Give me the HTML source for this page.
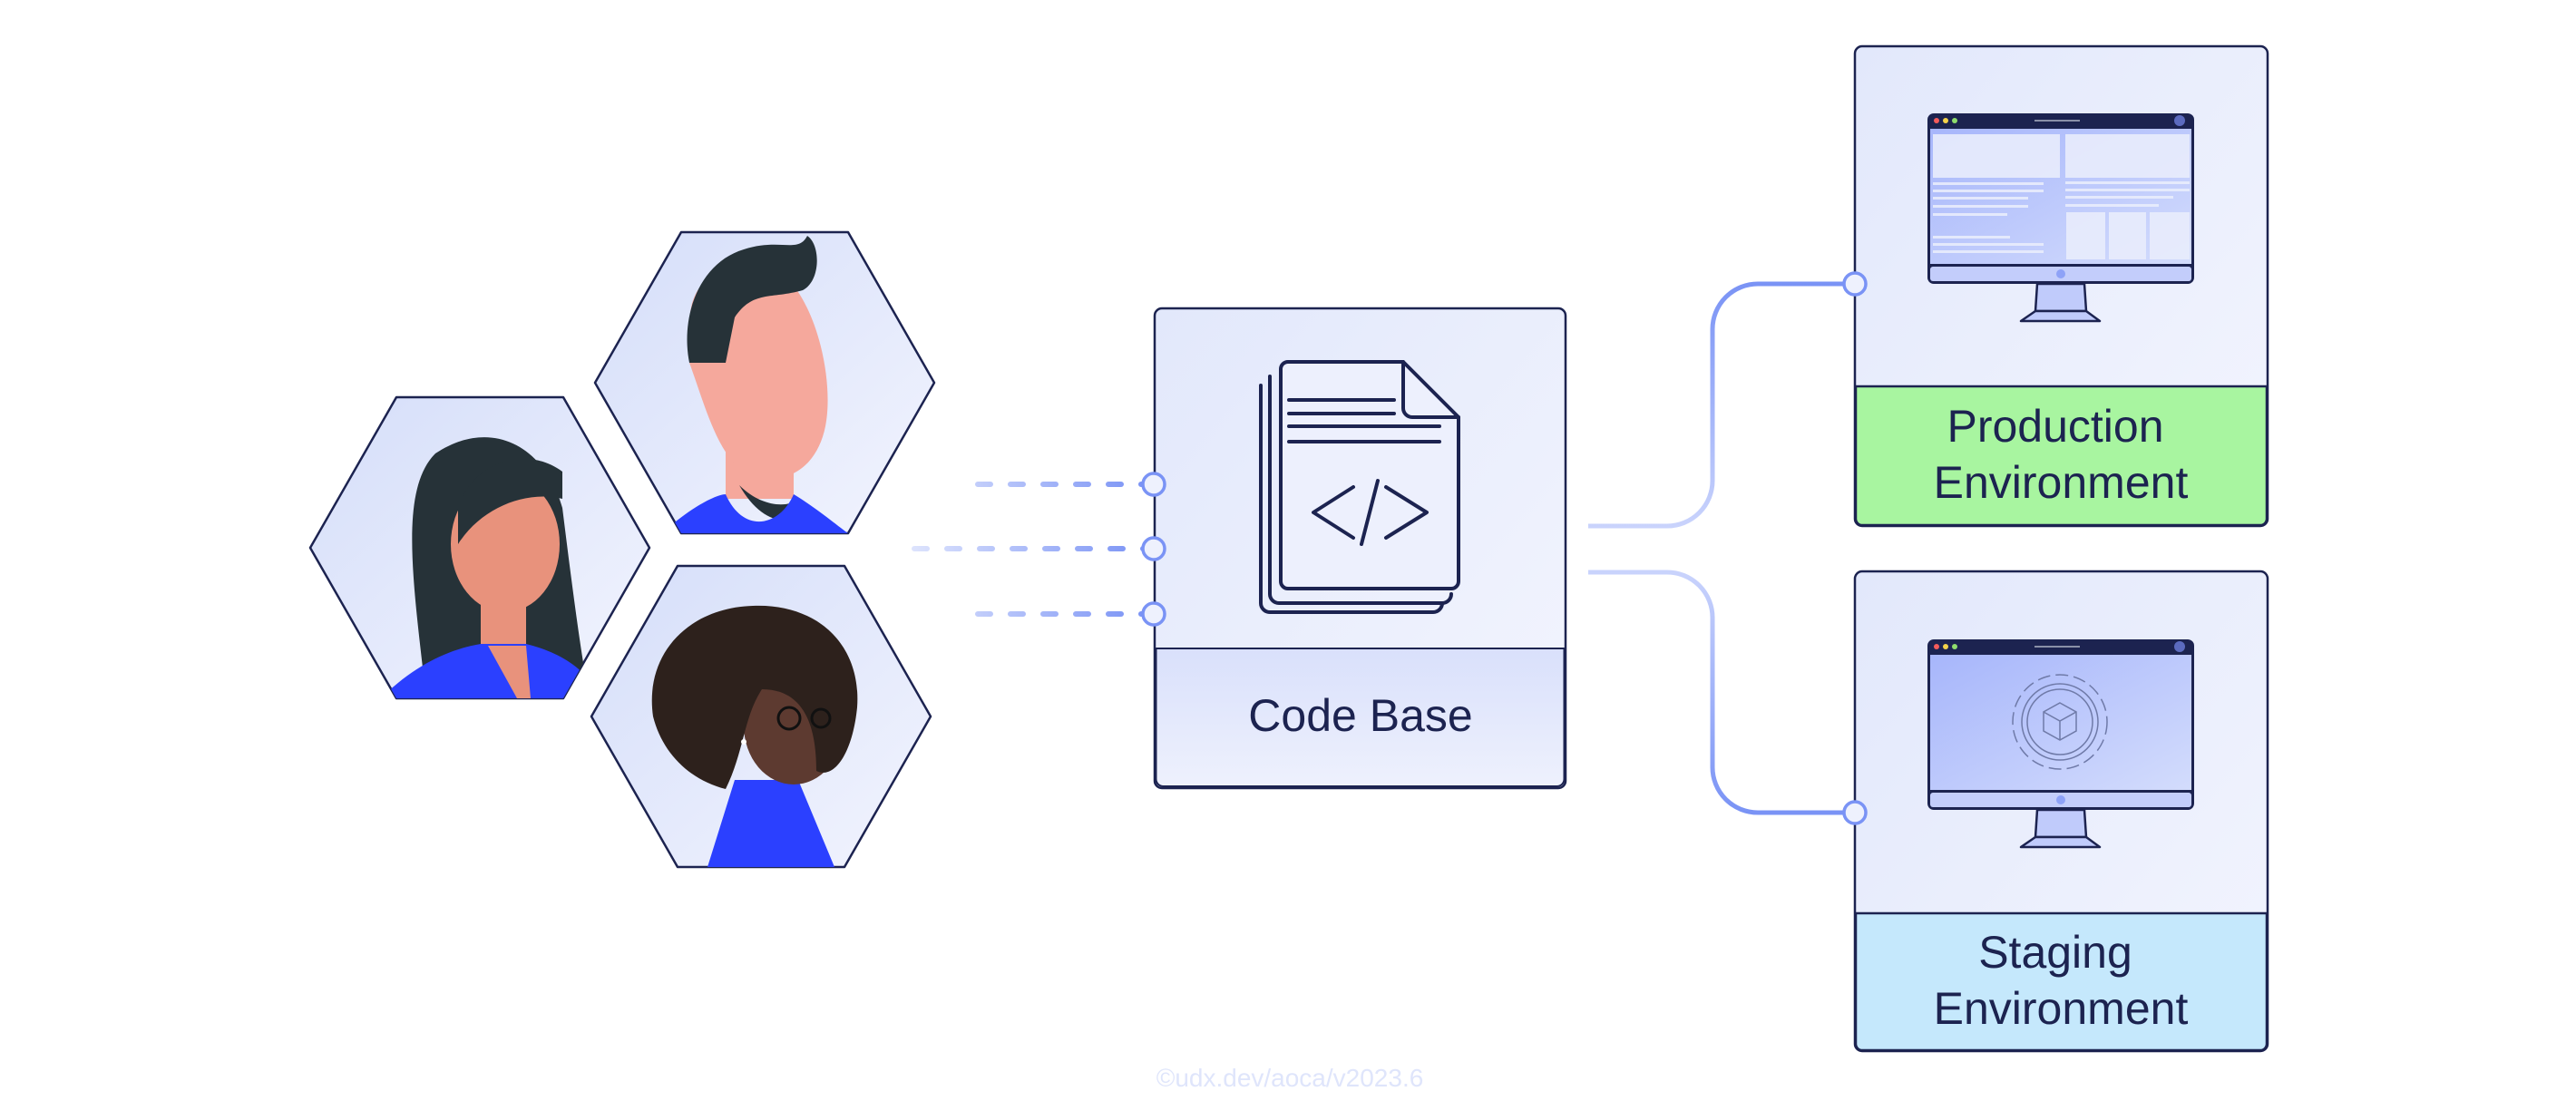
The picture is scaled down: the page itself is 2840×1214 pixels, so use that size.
<!DOCTYPE html>
<html><head><meta charset="utf-8"><style>
html,body{margin:0;padding:0;background:#fff;}
svg{display:block}
text{font-family:"Liberation Sans",sans-serif;}
</style></head><body>
<svg width="2840" height="1214" viewBox="0 0 2840 1214" xmlns="http://www.w3.org/2000/svg">
<defs>
<linearGradient id="bg" x1="0" y1="0" x2="1" y2="1"><stop offset="0" stop-color="#e2e8fb"/><stop offset="1" stop-color="#f3f5fe"/></linearGradient>
<linearGradient id="hx" x1="0" y1="0" x2="1" y2="1"><stop offset="0" stop-color="#d5def9"/><stop offset="1" stop-color="#f2f4fe"/></linearGradient>
<linearGradient id="lbl" x1="0" y1="0" x2="0" y2="1"><stop offset="0" stop-color="#d9e0fb"/><stop offset="1" stop-color="#eef1fd"/></linearGradient>
<linearGradient id="scr" x1="0" y1="0" x2="1" y2="1"><stop offset="0" stop-color="#a7b6fb"/><stop offset="1" stop-color="#d3dcfc"/></linearGradient>
<linearGradient id="dl" gradientUnits="userSpaceOnUse" x1="1000" y1="0" x2="1262" y2="0"><stop offset="0" stop-color="#dfe5fd"/><stop offset="1" stop-color="#7a93f5"/></linearGradient>
<linearGradient id="c1" x1="0" y1="1" x2="0" y2="0"><stop offset="0" stop-color="#c9d3fc"/><stop offset="1" stop-color="#7a93f5"/></linearGradient>
<linearGradient id="c2" x1="0" y1="0" x2="0" y2="1"><stop offset="0" stop-color="#c9d3fc"/><stop offset="1" stop-color="#7a93f5"/></linearGradient>
<clipPath id="h1"><polygon points="342,604 437,438 621,438 716,604 621,770 437,770"/></clipPath>
<clipPath id="h2"><polygon points="656,422 751,256 935,256 1030,422 935,588 751,588"/></clipPath>
<clipPath id="h3"><polygon points="652,790 747,624 931,624 1026,790 931,956 747,956"/></clipPath>
<g id="mon">
<rect x="0" y="0" width="294" height="188" rx="7" fill="#1c2350"/>
<rect x="3" y="17" width="288" height="149" fill="url(#scr)"/>
<rect x="3" y="169" width="288" height="16" rx="3" fill="#c3cdfb"/>
<circle cx="147" cy="177" r="5" fill="#8ea2f7"/>
<circle cx="10" cy="8" r="3" fill="#f45b5b"/><circle cx="20" cy="8" r="3" fill="#f3d24a"/><circle cx="30" cy="8" r="3" fill="#8fdc6d"/>
<rect x="118" y="7" width="50" height="2" fill="#8a90a8"/>
<circle cx="278" cy="8" r="6" fill="#5c6bbf"/>
<polygon points="121,188 173,188 175,218 119,218" fill="#c0cbfb" stroke="#1c2350" stroke-width="2.5"/>
<polygon points="119,218 175,218 190,229 103,229" fill="#c0cbfb" stroke="#1c2350" stroke-width="2.5" stroke-linejoin="round"/>
</g>
</defs>

<!-- hexagons -->
<polygon points="342,604 437,438 621,438 716,604 621,770 437,770" fill="url(#hx)" stroke="#1c2350" stroke-width="2.5" stroke-linejoin="round"/>
<g clip-path="url(#h1)">
<path d="M470,770 C455,640 440,540 480,500 C540,460 600,490 620,560 C630,640 640,720 650,770 Z" fill="#263238"/>
<ellipse cx="557" cy="600" rx="60" ry="75" fill="#e8927c"/>
<path d="M505,560 C520,510 580,490 620,520 L620,550 C580,540 530,560 505,600 Z" fill="#263238"/>
<rect x="530" y="660" width="50" height="60" fill="#e8927c"/>
<path d="M420,770 C460,730 500,715 530,710 L580,710 C620,720 650,740 660,770 Z" fill="#2b40ff"/>
<path d="M538,712 L570,770 L585,770 L580,712 Z" fill="#e8927c"/>
</g>
<polygon points="656,422 751,256 935,256 1030,422 935,588 751,588" fill="url(#hx)" stroke="#1c2350" stroke-width="2.5" stroke-linejoin="round"/>
<g clip-path="url(#h2)">
<rect x="800" y="440" width="75" height="110" fill="#f5a89c"/>
<path d="M760,360 C760,300 800,290 860,300 C900,330 920,420 910,470 C900,520 860,540 820,520 C790,500 775,440 760,400 Z" fill="#f5a89c"/>
<ellipse cx="790" cy="420" rx="20" ry="28" fill="#f5a89c"/>
<path d="M760,400 C750,350 770,290 820,275 C860,262 880,280 890,260 C905,270 905,310 885,320 C850,330 830,320 810,350 L800,400 Z" fill="#263238"/>
<path d="M815,535 C840,560 870,560 880,550 L880,570 C860,580 835,570 815,535 Z" fill="#263238"/>
<path d="M730,588 C760,560 790,545 800,545 C820,590 860,580 875,545 C900,560 930,585 935,588 Z" fill="#2b40ff"/>
</g>
<polygon points="652,790 747,624 931,624 1026,790 931,956 747,956" fill="url(#hx)" stroke="#1c2350" stroke-width="2.5" stroke-linejoin="round"/>
<g clip-path="url(#h3)">
<path d="M780,956 L810,860 L880,860 L920,956 Z" fill="#2b40ff"/>
<ellipse cx="875" cy="800" rx="55" ry="65" fill="#5d3a30"/>
<path d="M720,790 C710,720 760,670 830,668 C900,665 950,710 945,780 C940,830 920,860 900,850 C900,790 880,760 840,760 C820,790 820,830 800,870 C760,860 730,830 720,790 Z" fill="#2d211c"/>
<circle cx="870" cy="792" r="12" fill="none" stroke="#111" stroke-width="3"/>
<circle cx="905" cy="792" r="10" fill="none" stroke="#111" stroke-width="3"/>
<circle cx="820" cy="818" r="3" fill="#fff"/>
</g>

<!-- dashed inputs -->
<g stroke="url(#dl)" stroke-width="6" stroke-linecap="round" stroke-dasharray="14 22">
<line x1="1078" y1="534" x2="1262" y2="534"/>
<line x1="1008" y1="605" x2="1262" y2="605"/>
<line x1="1078" y1="677" x2="1262" y2="677"/>
</g>

<!-- code base -->
<rect x="1273" y="340" width="453" height="529" rx="8" fill="url(#bg)" stroke="#1c2350" stroke-width="2.5"/>
<path d="M1274.5,715 H1724.5 V859 a8,8 0 0 1 -8,8 H1282.5 a8,8 0 0 1 -8,-8 Z" fill="url(#lbl)" stroke="#1c2350" stroke-width="2"/>
<text x="1500" y="806" font-size="50" text-anchor="middle" fill="#1c2350">Code Base</text>
<g fill="none" stroke="#1c2350" stroke-width="4" stroke-linecap="round" stroke-linejoin="round">
<path d="M1390,425 v240 a10,10 0 0 0 10,10 h180 a10,10 0 0 0 10,-10" />
<path d="M1400,415 v240 a10,10 0 0 0 10,10 h180 a10,10 0 0 0 10,-10" />
<path d="M1420,399 H1547 L1608,460 V641 a8,8 0 0 1 -8,8 H1420 a8,8 0 0 1 -8,-8 V407 a8,8 0 0 1 8,-8 Z" fill="#edf0fd"/>
<path d="M1547,399 V450 a10,10 0 0 0 10,10 H1608"/>
<path d="M1421,441 H1537 M1421,456 H1537 M1421,470 H1587 M1421,487 H1587"/>
<path d="M1492,537 L1448,565 L1492,593 M1519,530 L1501,600 M1528,537 L1573,565 L1528,593"/>
</g>
<g fill="#eef1fd" stroke="#7a93f5" stroke-width="3.5">
<circle cx="1272" cy="534" r="12"/><circle cx="1272" cy="605" r="12"/><circle cx="1272" cy="677" r="12"/>
</g>

<!-- connectors -->
<path d="M1751,580 H1838 a50,50 0 0 0 50,-50 V363 a50,50 0 0 1 50,-50 H2033" fill="none" stroke="url(#c1)" stroke-width="5"/>
<path d="M1751,631 H1838 a50,50 0 0 1 50,50 V846 a50,50 0 0 0 50,50 H2033" fill="none" stroke="url(#c2)" stroke-width="5"/>

<!-- production -->
<rect x="2045" y="51" width="455" height="529" rx="8" fill="url(#bg)" stroke="#1c2350" stroke-width="2.5"/>
<path d="M2046,426 H2499 V572 a7,7 0 0 1 -7,7 H2053 a7,7 0 0 1 -7,-7 Z" fill="#a8f5a0" stroke="#1c2350" stroke-width="2.5"/>
<text x="2266" y="487" font-size="50" text-anchor="middle" fill="#1c2350">Production</text>
<text x="2272" y="549" font-size="50" text-anchor="middle" fill="#1c2350">Environment</text>
<use href="#mon" x="2125" y="125"/>
<g fill="#e9edfd" opacity="0.9">
<rect x="2131" y="148" width="140" height="48"/><rect x="2277" y="148" width="137" height="48"/>
<rect x="2131" y="201" width="122" height="3"/><rect x="2131" y="209" width="122" height="3"/><rect x="2131" y="217" width="105" height="3"/><rect x="2131" y="226" width="105" height="3"/><rect x="2131" y="235" width="82" height="3"/>
<rect x="2131" y="260" width="85" height="3"/><rect x="2131" y="268" width="122" height="3"/><rect x="2131" y="276" width="122" height="3"/>
<rect x="2277" y="200" width="137" height="3"/><rect x="2277" y="208" width="137" height="3"/><rect x="2277" y="216" width="119" height="3"/><rect x="2277" y="225" width="103" height="3"/>
<rect x="2278" y="234" width="43" height="52"/><rect x="2325" y="234" width="41" height="52"/><rect x="2370" y="234" width="44" height="52"/>
</g>
<circle cx="2045" cy="313" r="12" fill="#eef1fd" stroke="#7a93f5" stroke-width="3.5"/>

<!-- staging -->
<rect x="2045" y="630" width="455" height="529" rx="8" fill="url(#bg)" stroke="#1c2350" stroke-width="2.5"/>
<path d="M2046,1007 H2499 V1151 a7,7 0 0 1 -7,7 H2053 a7,7 0 0 1 -7,-7 Z" fill="#c5e8fc" stroke="#1c2350" stroke-width="2.5"/>
<text x="2266" y="1067" font-size="50" text-anchor="middle" fill="#1c2350">Staging</text>
<text x="2272" y="1129" font-size="50" text-anchor="middle" fill="#1c2350">Environment</text>
<use href="#mon" x="2125" y="705"/>
<g fill="none" stroke="#6f7aa8" stroke-width="1.5">
<circle cx="2271" cy="796" r="52" stroke-dasharray="14 6"/>
<circle cx="2271" cy="796" r="42"/><circle cx="2271" cy="796" r="36"/>
<path d="M2271,775 L2289,785 V806 L2271,816 L2253,806 V785 Z M2253,785 L2271,795 L2289,785 M2271,795 V816"/>
</g>
<circle cx="2045" cy="896" r="12" fill="#eef1fd" stroke="#7a93f5" stroke-width="3.5"/>

<text x="1422" y="1198" font-size="28" text-anchor="middle" fill="#dfe5fb">©udx.dev/aoca/v2023.6</text>
</svg>
</body></html>
